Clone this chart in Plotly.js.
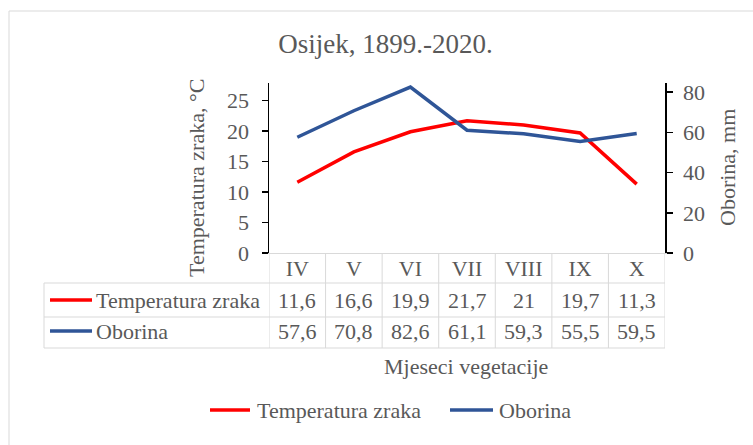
<!DOCTYPE html>
<html>
<head>
<meta charset="utf-8">
<script src="https://cdn.plot.ly/plotly-3.0.1.min.js"></script>
<style>html,body{margin:0;padding:0;background:#fff;}#chart{width:753px;height:445px;}</style>
</head>
<body>
<div id="chart"></div>
<script>
// ---- data ----
const months = ["IV", "V", "VI", "VII", "VIII", "IX", "X"];
const tempName = "Temperatura zraka";
const rainName = "Oborina";
const temperature = [11.6, 16.6, 19.9, 21.7, 21, 19.7, 11.3];
const precipitation = [57.6, 70.8, 82.6, 61.1, 59.3, 55.5, 59.5];
const leftTicks = [0, 5, 10, 15, 20, 25];
const rightTicks = [0, 20, 40, 60, 80];

// ---- layout helpers (pixel -> paper) ----
const W = 753, H = 445;
const PL = 269, PR = 665, PT = 83, PB = 253;
const px2x = p => (p - PL) / (PR - PL);
const py2y = p => (PB - p) / (PB - PT);

const FONT = 'Liberation Serif, Times New Roman, serif';
const GRAY = '#595959';
const GRID = '#d9d9d9';
const RED = '#ff0000';
const BLUE = '#2f5597';
const FS = 22;
const fmt = v => String(v).replace('.', ',');

const traces = [
  {x: months, y: temperature, name: tempName, type: 'scatter', mode: 'lines',
   line: {color: RED, width: 3.5}, yaxis: 'y', hoverinfo: 'skip'},
  {x: months, y: precipitation, name: rainName, type: 'scatter', mode: 'lines',
   line: {color: BLUE, width: 3.5}, yaxis: 'y2', hoverinfo: 'skip'}
];

const shapes = [];
const annotations = [];

// outer frame
shapes.push({type: 'rect', xref: 'paper', yref: 'paper', x0: px2x(9), x1: px2x(770), y0: py2y(460), y1: py2y(11),
  line: {color: GRID, width: 1}, fillcolor: 'rgba(0,0,0,0)', layer: 'below'});

// table vertical lines on category boundaries
for (let i = 0; i <= months.length; i++) {
  shapes.push({type: 'line', xref: 'x', yref: 'paper', x0: i - 0.5, x1: i - 0.5, y0: py2y(PB), y1: py2y(348),
    line: {color: GRID, width: 1}, layer: 'below'});
}
// table left border
shapes.push({type: 'line', xref: 'paper', yref: 'paper', x0: px2x(44), x1: px2x(44), y0: py2y(283), y1: py2y(348),
  line: {color: GRID, width: 1}, layer: 'below'});
// table horizontal lines
[283, 317, 348].forEach(py => {
  shapes.push({type: 'line', xref: 'paper', yref: 'paper', x0: px2x(44), x1: 1, y0: py2y(py), y1: py2y(py),
    line: {color: GRID, width: 1}, layer: 'below'});
});

const rows = [
  {name: tempName, values: temperature, color: RED, y: 300},
  {name: rainName, values: precipitation, color: BLUE, y: 331}
];
rows.forEach(r => {
  shapes.push({type: 'line', xref: 'paper', yref: 'paper', x0: px2x(50), x1: px2x(92), y0: py2y(r.y), y1: py2y(r.y),
    line: {color: r.color, width: 3.5}});
  annotations.push({xref: 'paper', yref: 'paper', x: px2x(94), y: py2y(r.y), xanchor: 'left', yanchor: 'middle',
    text: r.name, showarrow: false, font: {family: FONT, size: FS, color: GRAY}});
  r.values.forEach((v, i) => {
    annotations.push({xref: 'x', yref: 'paper', x: months[i], y: py2y(r.y), xanchor: 'center', yanchor: 'middle',
      text: fmt(v), showarrow: false, font: {family: FONT, size: FS, color: GRAY}});
  });
});

// bottom legend (drawn as keys + labels)
const legendItems = [
  {name: tempName, color: RED, x0: 210, x1: 250, tx: 255},
  {name: rainName, color: BLUE, x0: 450, x1: 493, tx: 497}
];
legendItems.forEach(it => {
  shapes.push({type: 'line', xref: 'paper', yref: 'paper', x0: px2x(it.x0), x1: px2x(it.x1), y0: py2y(410), y1: py2y(410),
    line: {color: it.color, width: 3.5}});
  annotations.push({xref: 'paper', yref: 'paper', x: px2x(it.tx), y: py2y(410), xanchor: 'left', yanchor: 'middle',
    text: it.name, showarrow: false, font: {family: FONT, size: FS, color: GRAY}});
});

// axis titles
annotations.push({xref: 'paper', yref: 'paper', x: px2x(196), y: py2y(178), textangle: -90,
  text: 'Temperatura zraka, °C', showarrow: false, xanchor: 'center', yanchor: 'middle',
  font: {family: FONT, size: FS, color: GRAY}});
annotations.push({xref: 'paper', yref: 'paper', x: px2x(727), y: py2y(168), textangle: -90,
  text: 'Oborina, mm', showarrow: false, xanchor: 'center', yanchor: 'middle',
  font: {family: FONT, size: FS, color: GRAY}});
annotations.push({xref: 'paper', yref: 'paper', x: px2x(466), y: py2y(366),
  text: 'Mjeseci vegetacije', showarrow: false, xanchor: 'center', yanchor: 'middle',
  font: {family: FONT, size: FS, color: GRAY}});

const layout = {
  width: W, height: H,
  margin: {l: PL, r: W - PR, t: PT, b: H - PB, autoexpand: false},
  paper_bgcolor: '#fff', plot_bgcolor: '#fff',
  font: {family: FONT, size: FS, color: GRAY},
  title: {text: 'Osijek, 1899.-2020.', font: {family: FONT, size: 27, color: GRAY},
    x: 385.5 / W, xref: 'container', xanchor: 'center', y: 1 - 44 / H, yref: 'container', yanchor: 'middle'},
  showlegend: false,
  xaxis: {type: 'category', categoryarray: months, range: [-0.5, months.length - 0.5],
    showline: true, linecolor: GRID, linewidth: 1, ticks: '', showgrid: false, zeroline: false,
    tickfont: {family: FONT, size: FS, color: GRAY}, ticklabelstandoff: -4, fixedrange: true},
  yaxis: {range: [0, 27.9], tickvals: leftTicks, ticktext: leftTicks.map(String), showline: true, linecolor: '#000', linewidth: 1.5,
    ticks: 'outside', ticklen: 6, tickcolor: '#000', tickwidth: 1.5, showgrid: false, zeroline: false,
    tickfont: {family: FONT, size: FS, color: GRAY}, ticklabelstandoff: 8, fixedrange: true},
  yaxis2: {overlaying: 'y', side: 'right', range: [0, 84.6], tickvals: rightTicks, ticktext: rightTicks.map(String),
    showline: true, linecolor: '#000', linewidth: 1.5, ticks: 'outside', ticklen: 6, tickcolor: '#000', tickwidth: 1.5,
    showgrid: false, zeroline: false, tickfont: {family: FONT, size: FS, color: GRAY}, ticklabelstandoff: 6, fixedrange: true},
  shapes: shapes,
  annotations: annotations
};

Plotly.newPlot('chart', traces, layout, {staticPlot: true, displayModeBar: false});
</script>
</body>
</html>
